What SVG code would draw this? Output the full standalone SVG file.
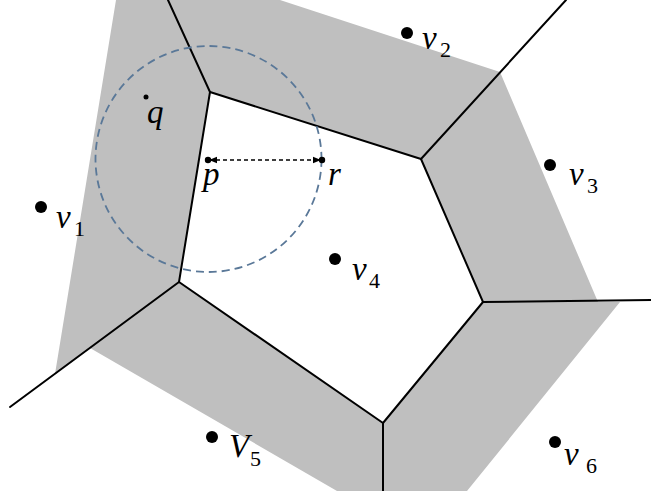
<svg xmlns="http://www.w3.org/2000/svg" width="651" height="491" viewBox="0 0 651 491">
<defs>
<style>
.edge{stroke:#000;stroke-width:2;fill:none;stroke-linecap:round}
.site{fill:#000}
</style>
<marker id="ah" viewBox="0 0 10 10" refX="10" refY="5" markerWidth="9" markerHeight="8" markerUnits="userSpaceOnUse" orient="auto-start-reverse">
<path d="M0,1 L10,5 L0,9 Z" fill="#000"/>
</marker>
</defs>
<rect width="651" height="491" fill="#fff"/>
<g id="region">
<path fill="#bfbfbf" fill-rule="evenodd" d="M116,0 L280,0 L500,72 L598,302 L620,302 L467,491 L337,491 L90,348 L55,374 Z M210,92 L421,159 L483,302 L383,423 L179,282 Z"/>
</g>
<g id="connectors">
<path class="edge" d="M168,0 L210,92"/>
<path class="edge" d="M210,92 L421,159"/>
<path class="edge" d="M421,159 L566,0"/>
<path class="edge" d="M421,159 L483,302"/>
<path class="edge" d="M483,302 L651,300"/>
<path class="edge" d="M483,302 L383,423"/>
<path class="edge" d="M383,423 L383,491"/>
<path class="edge" d="M383,423 L179,282"/>
<path class="edge" d="M179,282 L10,407"/>
<path class="edge" d="M179,282 L210,92"/>
</g>
<g id="circle">
<circle cx="208.5" cy="159" r="113" fill="none" stroke="#5a7898" stroke-width="1.8" stroke-dasharray="8,5"/>
</g>
<g id="distance">
<line x1="209" y1="160" x2="321" y2="160" stroke="#000" stroke-width="1.3" stroke-dasharray="4,3" marker-start="url(#ah)" marker-end="url(#ah)"/>
</g>
<g id="labels" font-family="Liberation Serif, serif" fill="#000">
<g id="q"><circle class="site" cx="146" cy="97" r="2.5"/><text font-style="italic" font-size="33" x="147" y="123">q</text></g>
<g id="p"><circle class="site" cx="208" cy="160" r="3.2"/><text font-style="italic" font-size="33" x="203" y="185">p</text></g>
<g id="r"><circle class="site" cx="322" cy="160" r="3.2"/><text font-style="italic" font-size="33" x="328" y="185">r</text></g>
<g id="v1"><circle class="site" cx="41" cy="207" r="6"/><text font-style="italic" font-size="33" x="56" y="228">v</text><text font-size="22" x="74" y="236">1</text></g>
<g id="v2"><circle class="site" cx="407" cy="33" r="6"/><text font-style="italic" font-size="33" x="422" y="49">v</text><text font-size="22" x="440" y="57">2</text></g>
<g id="v3"><circle class="site" cx="550" cy="165" r="6"/><text font-style="italic" font-size="33" x="569" y="185">v</text><text font-size="22" x="587" y="193">3</text></g>
<g id="v4"><circle class="site" cx="335" cy="259" r="6"/><text font-style="italic" font-size="33" x="352" y="280">v</text><text font-size="22" x="369" y="288">4</text></g>
<g id="V5"><circle class="site" cx="212" cy="437" r="6"/><text font-style="italic" font-size="33" x="229" y="457">V</text><text font-size="22" x="250" y="466">5</text></g>
<g id="v6"><circle class="site" cx="555" cy="442" r="6"/><text font-style="italic" font-size="33" x="564" y="465">v</text><text font-size="22" x="586" y="473">6</text></g>
</g>
</svg>
